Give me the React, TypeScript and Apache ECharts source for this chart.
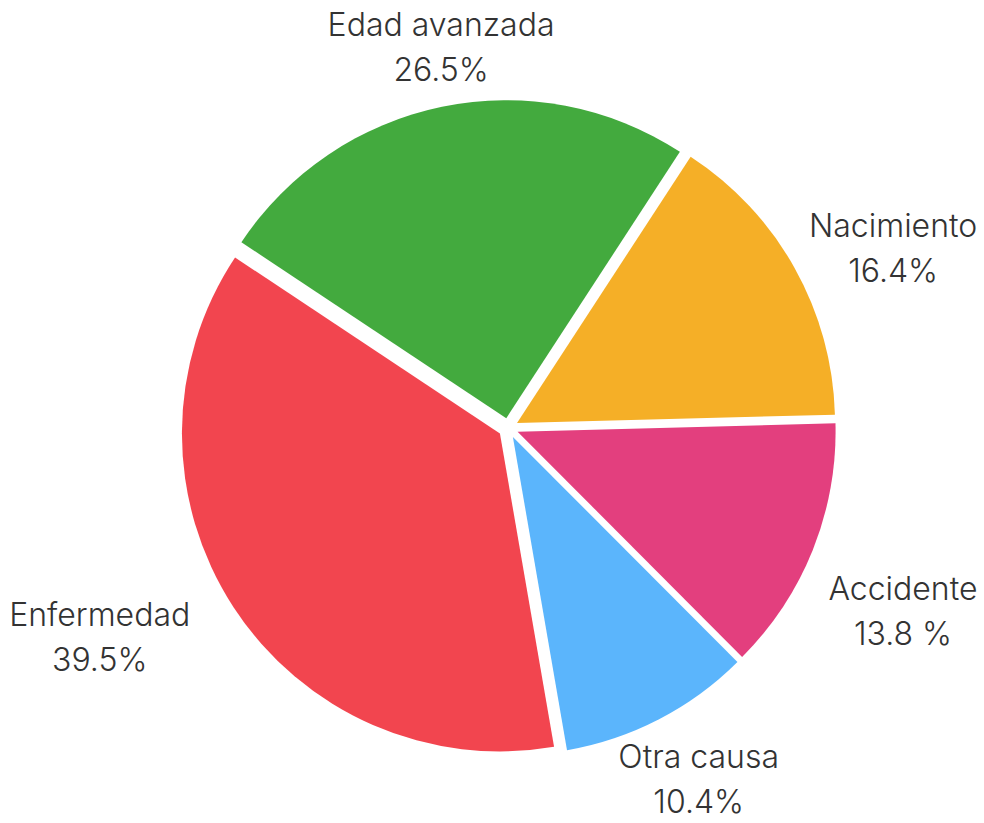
import React, { useEffect, useRef } from "react";
import * as echarts from "echarts";

const categories = ["Enfermedad", "Edad avanzada", "Nacimiento", "Accidente", "Otra causa"];
const values = [39.5, 26.5, 16.4, 13.8, 10.4];
const valueLabels = ["39.5%", "26.5%", "16.4%", "13.8 %", "10.4%"];
const colors = ["#F2454F", "#43AA3E", "#F5AF27", "#E33F7E", "#5BB5FC"];

const CENTER = [508.3, 428];
const RADIUS = 318;
const START_CW = 170.2; // degrees clockwise from 12 o'clock
const labelDistance = [459, 387, 425, 435, 399.5];
const labelAngleShift = [6.0, 1.65, 4.1, 3.1, -1.1];

export default function App() {
  const ref = useRef<HTMLDivElement>(null);
  useEffect(() => {
    const chart = echarts.init(ref.current!, null, { renderer: "svg" });
    const total = values.reduce((a, b) => a + b, 0);
    const mids: number[] = [];
    let acc = START_CW;
    values.forEach((v) => {
      const span = (v / total) * 360;
      mids.push(acc + span / 2);
      acc += span;
    });
    const common = {
      type: "pie",
      center: CENTER,
      radius: RADIUS,
      startAngle: 90 - START_CW,
      clockwise: true,
      avoidLabelOverlap: false,
      emphasis: { disabled: true },
      labelLine: { show: false },
    };
    chart.setOption({
      animation: false,
      series: [
        {
          ...common,
          selectedMode: "multiple",
          selectedOffset: 10,
          data: categories.map((name, i) => ({
            name,
            value: values[i],
            selected: true,
            itemStyle: { color: colors[i] },
          })),
          itemStyle: { borderWidth: 0 },
          label: { show: false },
        },
        {
          ...common,
          silent: true,
          z: 3,
          data: categories.map((name, i) => ({ name, value: values[i] })),
          itemStyle: { color: "rgba(0,0,0,0)", borderWidth: 0 },
          label: {
            show: true,
            position: "outside",
            formatter: (p: any) => `${p.name}\n${valueLabels[p.dataIndex]}`,
            fontFamily: "Inter",
            fontSize: 32,
            fontWeight: 300,
            lineHeight: 45,
            color: "#333333",
            align: "center",
          },
          labelLayout: (p: any) => {
            const i = p.dataIndex;
            const a = ((mids[i] + labelAngleShift[i]) * Math.PI) / 180;
            return {
              x: CENTER[0] + labelDistance[i] * Math.sin(a),
              y: CENTER[1] - labelDistance[i] * Math.cos(a),
              align: "center",
              verticalAlign: "middle",
            };
          },
        },
      ],
    });
    return () => chart.dispose();
  }, []);
  return (
    <div
      ref={ref}
      style={{ position: "absolute", left: 0, top: 0, width: 984, height: 823 }}
    />
  );
}
